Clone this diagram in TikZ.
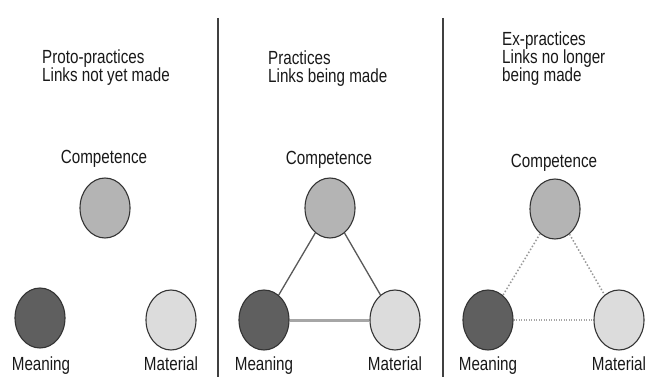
\documentclass[tikz,border=0pt]{standalone}
\usepackage{fontspec}
\setmainfont{Liberation Sans}
\usetikzlibrary{shapes.geometric}
\definecolor{compgray}{HTML}{B4B4B4}
\definecolor{meangray}{HTML}{5F5F5F}
\definecolor{matgray}{HTML}{DCDCDC}
\newcommand{\nrw}[1]{\scalebox{0.8}[1]{#1}}
\begin{document}
\begin{tikzpicture}[x=1pt, y=-1pt,
    blob/.style={ellipse, draw=black!80, line width=1.1pt, minimum width=50pt, minimum height=60pt, inner sep=0pt},
    lbl/.style={font=\fontsize{19}{18}\selectfont, inner sep=0pt, text=black!90},
    head/.style={lbl, align=left, anchor=north west},
    link/.style={draw=black!65, line width=1.3pt},
    faded/.style={draw=black!40, line width=1.5pt, dotted}]
    \useasboundingbox[fill=white] (0,0) rectangle (647,377);
    \draw[black!75, line width=1.3pt] (218,18) -- (218,377);
    \draw[black!75, line width=1.3pt] (443,18) -- (443,377);

    \node[head] (tproto) at (42,50) {\nrw{Proto-practices}\\\nrw{Links not yet made}};
    \node[blob, fill=compgray] (comp1) at (105,208) {};
    \node[blob, fill=meangray] (mean1) at (40,318) {};
    \node[blob, fill=matgray] (mat1) at (171,320) {};
    \node[lbl, anchor=base] at (104,163) {\nrw{Competence}};
    \node[lbl, anchor=base] at (41,370) {\nrw{Meaning}};
    \node[lbl, anchor=base] at (171,370) {\nrw{Material}};

    \node[head] (tprac) at (268,51) {\nrw{Practices}\\\nrw{Links being made}};
    \node[blob, fill=compgray] (comp2) at (330,208) {};
    \node[blob, fill=meangray] (mean2) at (264,320) {};
    \node[blob, fill=matgray] (mat2) at (395,320) {};
    \node[lbl, anchor=base] at (329,164) {\nrw{Competence}};
    \node[lbl, anchor=base] at (264,370) {\nrw{Meaning}};
    \node[lbl, anchor=base] at (395,370) {\nrw{Material}};
    \draw[link] (comp2) -- (mean2);
    \draw[link] (comp2) -- (mat2);
    \draw[draw=black!35, line width=3pt] (mean2) -- (mat2);

    \node[head] (tex) at (502,32) {\nrw{Ex-practices}\\\nrw{Links no longer}\\\nrw{being made}};
    \node[blob, fill=compgray] (comp3) at (555,209) {};
    \node[blob, fill=meangray] (mean3) at (488,320) {};
    \node[blob, fill=matgray] (mat3) at (619,320) {};
    \node[lbl, anchor=base] at (554,167) {\nrw{Competence}};
    \node[lbl, anchor=base] at (488,370) {\nrw{Meaning}};
    \node[lbl, anchor=base] at (619,370) {\nrw{Material}};
    \draw[faded] (comp3) -- (mean3);
    \draw[faded] (comp3) -- (mat3);
    \draw[draw=black!35, line width=2.5pt, dash pattern=on 1pt off 1.5pt] (mean3) -- (mat3);
\end{tikzpicture}
\end{document}
